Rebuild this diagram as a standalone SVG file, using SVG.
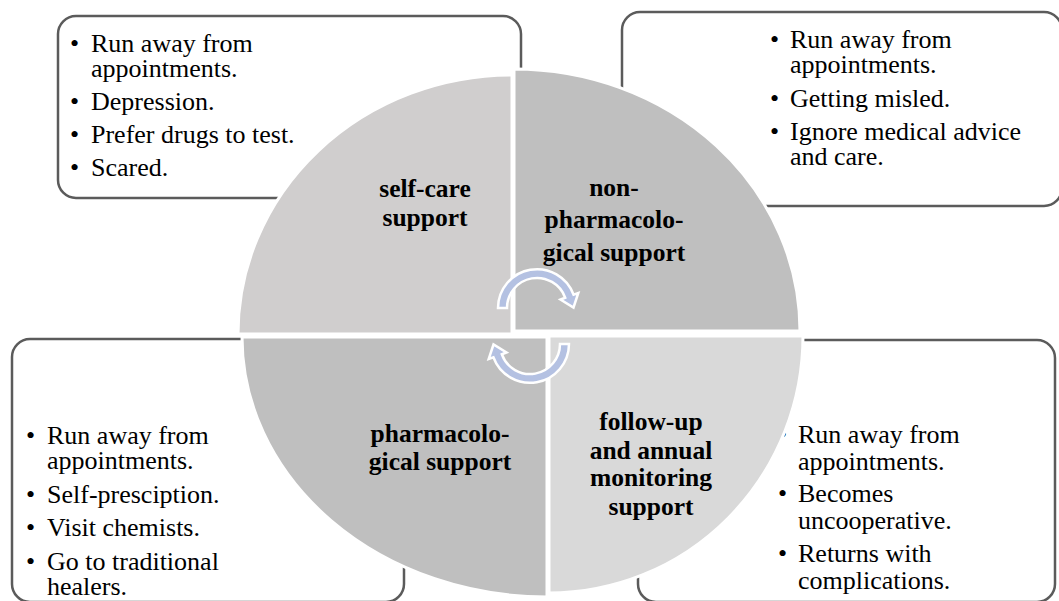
<svg xmlns="http://www.w3.org/2000/svg" width="1059" height="601" viewBox="0 0 1059 601">
<style>
.box{fill:#ffffff;stroke:#5b5b5b;stroke-width:2.5}
.t{font-family:"Liberation Serif","Times New Roman",serif;font-size:26px;fill:#000}
.q{stroke:#ffffff;stroke-width:3}
.lbl{font-family:"Liberation Serif","Times New Roman",serif;font-size:25.5px;font-weight:bold;fill:#000;text-anchor:middle}
.arr{fill:#b4c1e2;stroke:#ffffff;stroke-width:2.5;stroke-linejoin:miter}
</style>
<rect width="1059" height="601" fill="#ffffff"/>
<g id="box-top-left">
<rect class="box" x="58" y="16" width="463" height="182" rx="18"/>
<text class="t"><tspan x="70" y="52">•</tspan><tspan x="91" y="52">Run away from</tspan><tspan x="91" y="77">appointments.</tspan><tspan x="70" y="110">•</tspan><tspan x="91" y="110">Depression.</tspan><tspan x="70" y="143">•</tspan><tspan x="91" y="143">Prefer drugs to test.</tspan><tspan x="70" y="176">•</tspan><tspan x="91" y="176">Scared.</tspan></text>
</g>
<g id="box-top-right">
<rect class="box" x="622" y="12" width="440" height="194" rx="18"/>
<text class="t"><tspan x="770" y="48">•</tspan><tspan x="790" y="48">Run away from</tspan><tspan x="790" y="73">appointments.</tspan><tspan x="770" y="107">•</tspan><tspan x="790" y="107">Getting misled.</tspan><tspan x="770" y="140">•</tspan><tspan x="790" y="140">Ignore medical advice</tspan><tspan x="790" y="165">and care.</tspan></text>
</g>
<g id="box-bottom-left">
<rect class="box" x="12" y="339" width="392" height="263" rx="18"/>
<text class="t"><tspan x="26" y="444">•</tspan><tspan x="47" y="444">Run away from</tspan><tspan x="47" y="469">appointments.</tspan><tspan x="26" y="503">•</tspan><tspan x="47" y="503">Self-presciption.</tspan><tspan x="26" y="536">•</tspan><tspan x="47" y="536">Visit chemists.</tspan><tspan x="26" y="570">•</tspan><tspan x="47" y="570">Go to traditional</tspan><tspan x="47" y="595">healers.</tspan></text>
</g>
<g id="box-bottom-right">
<rect class="box" x="638" y="340" width="417" height="262" rx="18"/>
<text class="t"><tspan x="778" y="443">•</tspan><tspan x="798" y="443">Run away from</tspan><tspan x="798" y="470">appointments.</tspan><tspan x="778" y="502">•</tspan><tspan x="798" y="502">Becomes</tspan><tspan x="798" y="529">uncooperative.</tspan><tspan x="778" y="562">•</tspan><tspan x="798" y="562">Returns with</tspan><tspan x="798" y="589">complications.</tspan></text>
</g>
<g id="q-self-care">
<path class="q" fill="#d0cece" d="M512,334 L238,334 A274,259 0 0 1 512,75 Z"/>
<text class="lbl"><tspan x="425" y="197">self-care</tspan><tspan x="425" y="226">support</tspan></text>
</g>
<g id="q-non-pharmacological">
<path class="q" fill="#bfbfbf" d="M514,331 L514,69 A286,262 0 0 1 800,331 Z"/>
<text class="lbl"><tspan x="614" y="196">non-</tspan><tspan x="614" y="228">pharmacolo-</tspan><tspan x="614" y="261">gical support</tspan></text>
</g>
<g id="q-pharmacological">
<path class="q" fill="#bfbfbf" d="M547,337 L547,597 A305,260 0 0 1 242,337 Z"/>
<text class="lbl"><tspan x="440" y="442">pharmacolo-</tspan><tspan x="440" y="470">gical support</tspan></text>
</g>
<g id="q-follow-up">
<path class="q" fill="#d9d9d9" d="M549,336 L803,336 A254,257 0 0 1 549,593 Z"/>
<text class="lbl"><tspan x="651" y="430">follow-up</tspan><tspan x="651" y="459">and annual</tspan><tspan x="651" y="486">monitoring</tspan><tspan x="651" y="515">support</tspan></text>
</g>
<g id="connectors">
<path id="arrow-top" class="arr" d="M498,308 A39,39 0 0 1 573.6,294.7 L578.3,293 L573.5,307.5 L560.5,299.5 L565.2,297.7 A30,30 0 0 0 507,308 Z"/>
<path class="arr" transform="rotate(180 533.5 326)" d="M498,308 A39,39 0 0 1 573.6,294.7 L578.3,293 L573.5,307.5 L560.5,299.5 L565.2,297.7 A30,30 0 0 0 507,308 Z"/>
</g>
</svg>
